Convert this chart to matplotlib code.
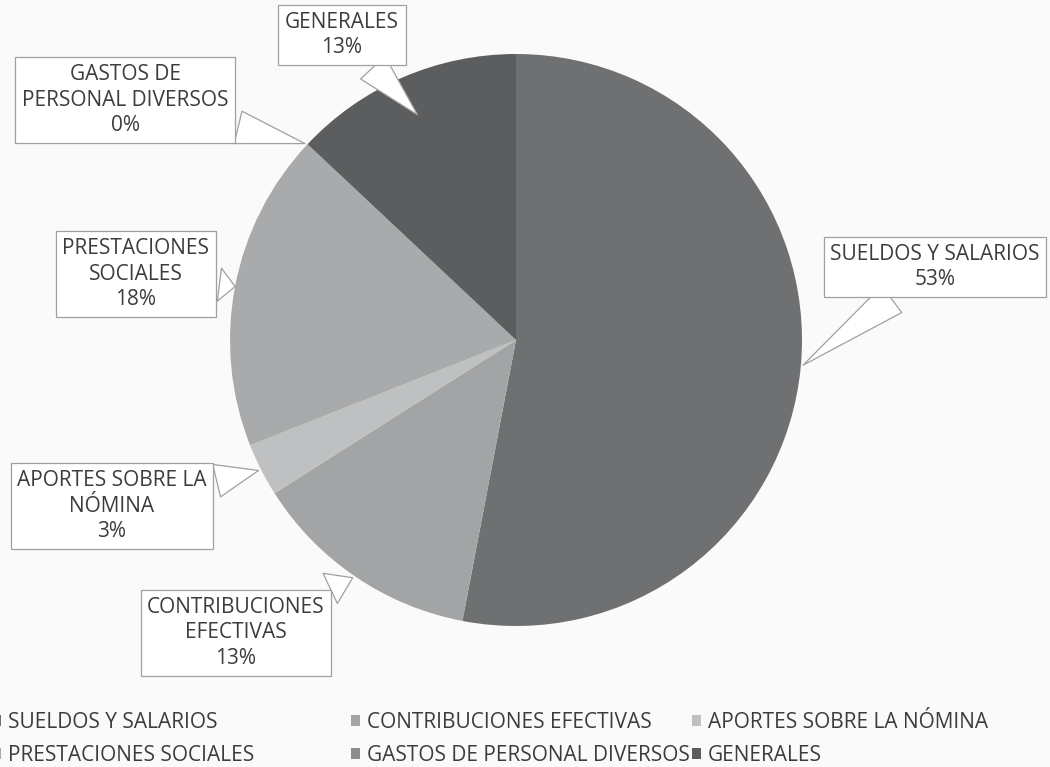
import matplotlib.pyplot as plt
import numpy as np
from matplotlib.patches import Patch

plt.rcParams['font.family'] = ['Open Sans', 'DejaVu Sans']

# Données
categorias = ["SUELDOS Y SALARIOS", "CONTRIBUCIONES EFECTIVAS", "APORTES SOBRE LA NÓMINA",
              "PRESTACIONES SOCIALES", "GASTOS DE PERSONAL DIVERSOS", "GENERALES"]
etiquetas = ["SUELDOS Y SALARIOS", "CONTRIBUCIONES\nEFECTIVAS", "APORTES SOBRE LA\nNÓMINA",
             "PRESTACIONES\nSOCIALES", "GASTOS DE\nPERSONAL DIVERSOS", "GENERALES"]
porcentajes = [53, 13, 3, 18, 0, 13]
colores = ["#6e7071", "#a2a4a5", "#bfc0c1", "#a8aaab", "#8a8c8d", "#5b5d5f"]

W, H = 1050, 767
fig = plt.figure(figsize=(W / 100, H / 100), dpi=100)
fig.patch.set_facecolor("#fafafa")

cx, cy, r = 516, 340, 286
ax = fig.add_axes([(cx - r) / W, (H - cy - r) / H, 2 * r / W, 2 * r / H])
wedges, _ = ax.pie(porcentajes, colors=colores, startangle=90, counterclock=False,
                   radius=1, wedgeprops=dict(linewidth=0))
ax.set_xlim(-1, 1)
ax.set_ylim(-1, 1)
ax.axis("off")

# centre des boîtes (pixels de la figure) et rayon du point visé
boites = [(935, 267, 1.0), (236, 633, 1.0), (112, 506, 1.0),
          (136, 274, 0.99), (125, 100, 1.0), (342, 35, 0.85)]

for w, lab, pct, (bx, by, rr) in zip(wedges, etiquetas, porcentajes, boites):
    ang = np.deg2rad((w.theta1 + w.theta2) / 2)
    px, py = rr * np.cos(ang), rr * np.sin(ang)
    ax.annotate(f"{lab}\n{pct}%", xy=(px, py), xycoords="data",
                xytext=(bx / W, 1 - by / H), textcoords="figure fraction",
                ha="center", va="center", fontsize=15, color="#3c3c3c",
                linespacing=1.3, annotation_clip=False,
                bbox=dict(boxstyle="square,pad=0.32", fc="white", ec="#a0a0a0", lw=0.9),
                arrowprops=dict(arrowstyle="wedge,tail_width=1.6,shrink_factor=0.5",
                                fc="white", ec="#a0a0a0", lw=0.9))

# légende : trois colonnes, deux lignes
handles = [Patch(facecolor=c, edgecolor="none") for c in colores]
col_x = [-8, 351, 692]
for j, x0 in enumerate(col_x):
    leg = fig.legend([handles[j], handles[j + 3]], [categorias[j], categorias[j + 3]],
                     loc="center left", bbox_to_anchor=(x0 / W, 1 - 739 / H),
                     frameon=False, fontsize=15, handlelength=0.45, handleheight=0.45,
                     handletextpad=0.3, labelspacing=0.55, borderpad=0, borderaxespad=0)
    for t in leg.get_texts():
        t.set_color("#3c3c3c")

fig.savefig("out.png", dpi=100, facecolor=fig.get_facecolor())
